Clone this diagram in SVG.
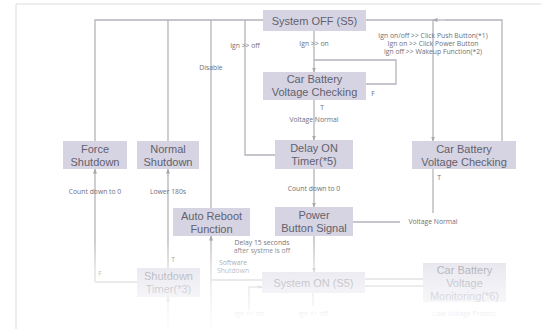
<svg xmlns="http://www.w3.org/2000/svg" width="541" height="329" viewBox="0 0 541 329">
<defs>
<style>
.box{fill:#d6d4e2}
.bt{font-family:"Liberation Sans",Arial,sans-serif;font-size:11px;fill:#62616f;text-anchor:middle}
.lb{font-family:"Open Sans","DejaVu Sans",sans-serif;font-size:6.8px;fill:#707078;text-anchor:middle}
.ln{fill:none;stroke:#b4b3bb;stroke-width:1.3}
.ar{fill:none;stroke:#b4b3bb;stroke-width:1.3;marker-end:url(#ah)}
</style>
<marker id="ah" viewBox="0 0 10 10" refX="9" refY="5" markerWidth="5" markerHeight="5" orient="auto" markerUnits="userSpaceOnUse">
<path d="M0,1 L10,5 L0,9 z" fill="#a8a7b0"/>
</marker>
<linearGradient id="fade" x1="0" y1="0" x2="0" y2="1">
<stop offset="0" stop-color="#fff" stop-opacity="0"/>
<stop offset="0.3" stop-color="#fff" stop-opacity="0.5"/>
<stop offset="0.55" stop-color="#fff" stop-opacity="0.7"/>
<stop offset="0.8" stop-color="#fff" stop-opacity="0.87"/>
<stop offset="1" stop-color="#fff" stop-opacity="0.96"/>
</linearGradient>
</defs>
<rect width="541" height="329" fill="#fff"/>
<path d="M16,329 V4 H541" fill="none" stroke="#dcdcdc" stroke-width="1"/>

<g id="connectors">
<path class="ln" d="M95,141 V20 H263"/>
<path class="ln" d="M168,141 V20"/>
<path class="ln" d="M211,208 V20"/>
<path class="ln" d="M245,20 V155 H275"/>
<path class="ar" d="M314,31 V72"/>
<path class="ln" d="M366,84 H396 V60 H314"/>
<path class="ar" d="M314,100 V140"/>
<path class="ar" d="M314,169 V207"/>
<path class="ar" d="M314,236 V272"/>
<path class="ln" d="M353,222 H400"/>
<path class="ln" d="M433,169 V213"/>
<path class="ln" d="M366,20 H433"/>
<path class="ar" d="M433,20 V141"/>
<path class="ln" d="M502,141 V20 H445"/>
<path class="ar" d="M445,20 H433"/>
<path class="ar" d="M95,282 V169"/>
<path class="ar" d="M168,268 V169"/>
<path class="ln" d="M95,282 H137"/>
<path class="ar" d="M168,329 V297"/>
<path class="ar" d="M211,329 V236"/>
<path class="ln" d="M211,280 H262"/>
<path class="ar" d="M249,310 V287 H262"/>
<path class="ln" d="M313,293 V306"/>
<path class="ln" d="M365,279 H423 M365,286 H423"/>
</g>

<g id="labels">
<text class="lb" x="245" y="48">Ign &gt;&gt; off</text>
<text class="lb" x="211" y="70">Disable</text>
<text class="lb" x="314" y="46">Ign &gt;&gt; on</text>
<text class="lb" x="433" y="38">Ign on/off &gt;&gt; Click Push Button(*1)</text>
<text class="lb" x="433" y="46">Ign on &gt;&gt; Click Power Button</text>
<text class="lb" x="433" y="54">Ign off &gt;&gt; Wakeup Function(*2)</text>
<text class="lb" x="373" y="96">F</text>
<text class="lb" x="322" y="110">T</text>
<text class="lb" x="314" y="122">Voltage Normal</text>
<text class="lb" x="314" y="191">Count down to 0</text>
<text class="lb" x="439" y="180">T</text>
<text class="lb" x="433" y="224">Voltage Normal</text>
<text class="lb" x="95" y="194">Count down to 0</text>
<text class="lb" x="168" y="194">Lower 180s</text>
<text class="lb" x="262" y="245">Delay 15 seconds</text>
<text class="lb" x="262" y="253">after systme is off</text>
<text class="lb" x="233" y="265">Software</text>
<text class="lb" x="233" y="273">Shutdown</text>
<text class="lb" x="100" y="276">F</text>
<text class="lb" x="173" y="262">T</text>
<text class="lb" x="249" y="316">Ign &gt;&gt; on</text>
<text class="lb" x="313" y="316">Ign &gt;&gt; off</text>
<text class="lb" x="464" y="316">Low Voltage Protect</text>
</g>

<g id="system-off"><rect class="box" x="263" y="10" width="103" height="21"/><text class="bt" x="314.5" y="24.5">System OFF (S5)</text></g>
<g id="cbvc1"><rect class="box" x="263" y="72" width="103" height="28"/><text class="bt" x="314.5" y="83">Car Battery</text><text class="bt" x="314.5" y="96">Voltage Checking</text></g>
<g id="delay-on"><rect class="box" x="275" y="140" width="78" height="29"/><text class="bt" x="314" y="152">Delay ON</text><text class="bt" x="314" y="165">Timer(*5)</text></g>
<g id="power-button"><rect class="box" x="275" y="207" width="78" height="29"/><text class="bt" x="314" y="219">Power</text><text class="bt" x="314" y="232">Button Signal</text></g>
<g id="force-shutdown"><rect class="box" x="63" y="141" width="64" height="28"/><text class="bt" x="95" y="152.5">Force</text><text class="bt" x="95" y="165.5">Shutdown</text></g>
<g id="normal-shutdown"><rect class="box" x="137" y="141" width="62" height="28"/><text class="bt" x="168" y="152.5">Normal</text><text class="bt" x="168" y="165.5">Shutdown</text></g>
<g id="cbvc2"><rect class="box" x="412" y="141" width="104" height="28"/><text class="bt" x="464" y="152.5">Car Battery</text><text class="bt" x="464" y="165.5">Voltage Checking</text></g>
<g id="auto-reboot"><rect class="box" x="173" y="208" width="77" height="28"/><text class="bt" x="211.5" y="219.5">Auto Reboot</text><text class="bt" x="211.5" y="232.5">Function</text></g>
<g id="shutdown-timer"><rect class="box" x="137" y="268" width="63" height="29"/><text class="bt" x="168.5" y="279.5">Shutdown</text><text class="bt" x="168.5" y="292.5">Timer(*3)</text></g>
<g id="system-on"><rect class="box" x="262" y="272" width="103" height="21"/><text class="bt" x="313.5" y="286.5">System ON (S5)</text></g>
<g id="cbvm"><rect class="box" x="423" y="263" width="83" height="39"/><text class="bt" x="464.5" y="273.5">Car Battery</text><text class="bt" x="464.5" y="286.5">Voltage</text><text class="bt" x="464.5" y="299.5">Monitoring(*6)</text></g>

<rect x="17" y="240" width="524" height="89" fill="url(#fade)"/>
</svg>
